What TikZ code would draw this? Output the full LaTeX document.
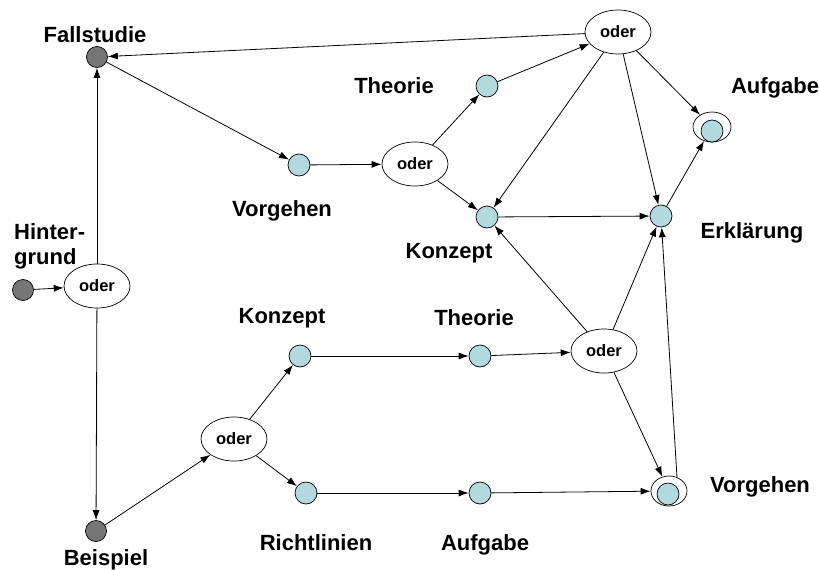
\documentclass[tikz,border=0pt]{standalone}
\usepackage{fontspec}
\setmainfont{Liberation Sans}
\usetikzlibrary{shapes.geometric,arrows.meta}
\definecolor{nodeblue}{RGB}{178,218,222}
\definecolor{nodegray}{RGB}{118,118,118}
\begin{document}
\begin{tikzpicture}[x=1pt,y=-1pt,
  darknode/.style={circle,draw,fill=nodegray,minimum size=21pt,inner sep=0pt,line width=0.7pt},
  bluenode/.style={circle,draw,fill=nodeblue,minimum size=22pt,inner sep=0pt,line width=0.7pt},
  oderbox/.style={ellipse,draw,minimum width=66pt,minimum height=44pt,inner sep=0pt,line width=0.7pt,font=\bfseries\fontsize{16.5}{18}\selectfont},
  outerring/.style={ellipse,draw,inner sep=0pt,line width=0.7pt},
  lab/.style={font=\bfseries\fontsize{22}{25}\selectfont,inner sep=0pt},
  arr/.style={-{Latex[length=10pt,width=7pt]},line width=0.8pt},
  ln/.style={line width=0.8pt}]
\useasboundingbox (0,0) rectangle (819,570);

% nodes
\node[darknode] (fall) at (97,57) {};
\node[darknode] (hint) at (23,290) {};
\node[darknode] (beis) at (96,531) {};
\node[oderbox] (oL) at (97,286) {oder};
\node[oderbox] (oM) at (415,164) {oder};
\node[oderbox] (oTR) at (618,32) {oder};
\node[oderbox] (oBL) at (234,439) {oder};
\node[oderbox] (oBR) at (604,351) {oder};
\node[bluenode] (vorT) at (299,165) {};
\node[bluenode] (theT) at (487,86) {};
\node[bluenode] (konM) at (487,217) {};
\node[bluenode] (erk) at (661,216) {};
\node[outerring,minimum width=38pt,minimum height=30pt] (aufT) at (712,127) {};
\node[bluenode] (aufTi) at (712,131) {};
\node[bluenode] (konB) at (300,356) {};
\node[bluenode] (theB) at (480,356) {};
\node[bluenode] (richt) at (306,493) {};
\node[bluenode] (aufB) at (480,493) {};
\node[outerring,minimum width=36pt,minimum height=30pt] (vorB) at (669,491) {};
\node[bluenode] (vorBi) at (668,494) {};

% labels
\node[lab] (lfall) at (95,35) {Fallstudie};
\node[lab,align=left,anchor=west] (lhint) at (14,246) {Hinter-\\grund};
\node[lab] (lbeis) at (106,560) {Beispiel};
\node[lab] (lvorT) at (282,211) {Vorgehen};
\node[lab] (ltheT) at (394,86) {Theorie};
\node[lab] (lkonM) at (449,253) {Konzept};
\node[lab] (laufT) at (775,88) {Aufgabe};
\node[lab] (lerk) at (752,233) {Erklärung};
\node[lab] (lkonB) at (282,318) {Konzept};
\node[lab] (ltheB) at (474,318) {Theorie};
\node[lab] (lricht) at (316,543) {Richtlinien};
\node[lab] (laufB) at (485,545) {Aufgabe};
\node[lab] (lvorB) at (760,487) {Vorgehen};

% connectors
\draw[arr] (oTR) -- (fall);
\draw[arr] (fall) -- (vorT);
\draw[arr] (vorT) -- (oM);
\draw[arr] (oM) -- (theT);
\draw[arr] (oM) -- (konM);
\draw[arr] (theT) -- (oTR);
\draw[arr] (oTR) -- (konM);
\draw[arr] (oTR) -- (erk);
\draw[arr] (oTR) -- (aufT);
\draw[arr] (konM) -- (erk);
\draw[arr] (erk) -- (aufT);
\draw[arr] (hint) -- (oL);
\draw[arr] (oL) -- (fall);
\draw[arr] (oL) -- (beis);
\draw[arr] (beis) -- (oBL);
\draw[arr] (oBL) -- (konB);
\draw[arr] (oBL) -- (richt);
\draw[arr] (konB) -- (theB);
\draw[arr] (theB) -- (oBR);
\draw[arr] (oBR) -- (konM);
\draw[arr] (oBR) -- (erk);
\draw[arr] (oBR) -- (vorB);
\draw[arr] (richt) -- (aufB);
\draw[arr] (aufB) -- (vorB);
\draw[arr] (vorB.60) -- (erk);
\end{tikzpicture}
\end{document}
